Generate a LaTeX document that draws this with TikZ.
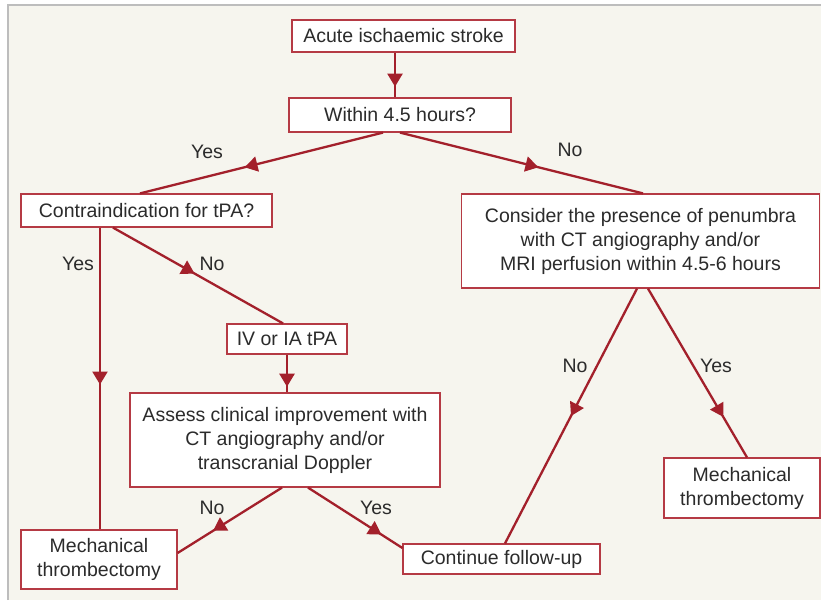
\documentclass[tikz,border=0pt]{standalone}
\usepackage{fontspec}
\setmainfont{Liberation Sans}
\usetikzlibrary{arrows.meta,decorations.markings,calc}
\definecolor{linered}{HTML}{A3202B}
\definecolor{boxred}{HTML}{B53A44}
\definecolor{bg}{HTML}{F6F5EE}
\definecolor{txt}{HTML}{2B2B2B}
\definecolor{frame}{HTML}{BDBDBD}
\tikzset{
  box/.style={draw=boxred, line width=1.2pt, fill=white, text=txt, align=center,
    inner sep=0pt, font={\fontsize{19.5}{24}\selectfont}},
  conn/.style={draw=linered, line width=2.3pt},
  midarrow/.style={postaction={decorate,decoration={markings,
    mark=at position #1 with {\arrow[linered]{Triangle[length=13pt,width=15pt]}}}}},
  lbl/.style={text=txt, font={\fontsize{19.5}{24}\selectfont}, inner sep=0pt}
}
\begin{document}
\begin{tikzpicture}[x=1pt,y=-1pt]
\useasboundingbox (0,0) rectangle (821,600);
\fill[white] (0,0) rectangle (821,600);
\fill[bg] (8,5) rectangle (821,600);
\draw[frame, line width=2pt] (8,600) -- (8,5) -- (821,5);

\node[box, minimum width=223pt, minimum height=32pt] (acute) at (403.5,36) {Acute ischaemic stroke};
\node[box, minimum width=222pt, minimum height=34pt] (within) at (400,115) {Within 4.5 hours?};
\node[box, minimum width=251pt, minimum height=33pt] (contra) at (146.5,210.5) {Contraindication for tPA?};
\node[box, minimum width=358pt, minimum height=94pt] (consider) at (640.5,241) {Consider the presence of penumbra\\with CT angiography and/or\\MRI perfusion within 4.5-6 hours};
\node[box, minimum width=120pt, minimum height=30pt] (iv) at (287,339) {IV or IA tPA};
\node[box, minimum width=310pt, minimum height=94pt] (assess) at (285,440) {Assess clinical improvement with\\CT angiography and/or\\transcranial Doppler};
\node[box, minimum width=156pt, minimum height=59pt] (mechL) at (99,559.5) {Mechanical\\thrombectomy};
\node[box, minimum width=197pt, minimum height=30pt] (cont) at (501.5,559) {Continue follow-up};
\node[box, minimum width=156pt, minimum height=60pt] (mechR) at (742,488) {Mechanical\\thrombectomy};

\draw[conn, midarrow=0.76] ([xshift=-8.5pt]acute.south) -- ([xshift=-8.5pt]acute.south |- within.north);
\draw[conn, midarrow=0.57] ([xshift=-17pt]within.south) -- ([xshift=-6.5pt]contra.north);
\draw[conn, midarrow=0.57] (within.south) -- ([xshift=2.5pt]consider.north);
\draw[conn, midarrow=0.52] ([xshift=-46.5pt]contra.south) -- ([xshift=-46.5pt]contra.south |- mechL.north);
\draw[conn, midarrow=0.48] ([xshift=-33.5pt]contra.south) -- ([xshift=-4pt]iv.north);
\draw[conn, midarrow=0.85] (iv.south) -- (iv.south |- assess.north);
\draw[conn, midarrow=0.66] ([xshift=-3pt]assess.south) -- ([yshift=6.5pt]mechL.east);
\draw[conn, midarrow=0.78] ([xshift=23pt]assess.south) -- ([yshift=11pt]cont.west);
\draw[conn, midarrow=0.5] ([xshift=-3.5pt]consider.south) -- ([xshift=3.5pt]cont.north);
\draw[conn, midarrow=0.76] ([xshift=7.5pt]consider.south) -- ([xshift=5pt]mechR.north);

\node[lbl] (l1) at (207,152) {Yes};
\node[lbl] (l2) at (570,150) {No};
\node[lbl] (l3) at (78,264) {Yes};
\node[lbl] (l4) at (212,264) {No};
\node[lbl] (l5) at (212,508) {No};
\node[lbl] (l6) at (376,508) {Yes};
\node[lbl] (l7) at (575,366) {No};
\node[lbl] (l8) at (716,366) {Yes};
\end{tikzpicture}
\end{document}
